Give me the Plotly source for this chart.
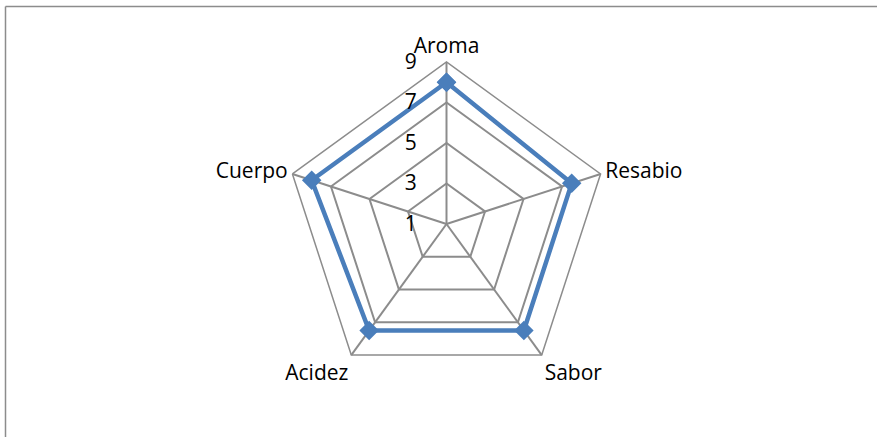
import plotly.graph_objects as go

categories = ["Aroma", "Resabio", "Sabor", "Acidez", "Cuerpo"]
values = [8.0, 7.5, 7.5, 7.5, 8.0]
radial_ticks = [1, 3, 5, 7, 9]

W, H = 877, 437
cx, cy, R = 446.5, 224, 162

fig = go.Figure()
fig.add_trace(go.Scatterpolar(
    r=values + values[:1],
    theta=categories + categories[:1],
    mode="lines+markers",
    line=dict(color="#4A7EBB", width=4.5),
    marker=dict(symbol="diamond", size=15, color="#4A7EBB"),
    showlegend=False,
    hoverinfo="skip",
))

FONT = "Open Sans, Noto Sans, sans-serif"
fig.update_layout(
    width=W, height=H,
    margin=dict(l=0, r=0, t=0, b=0),
    paper_bgcolor="white",
    font=dict(family=FONT, size=21, color="black"),
    polar=dict(
        domain=dict(x=[(cx - R) / W, (cx + R) / W],
                    y=[(H - cy - R) / H, (H - cy + R) / H]),
        bgcolor="white",
        gridshape="linear",
        angularaxis=dict(
            direction="clockwise", rotation=90,
            showline=True, linecolor="#8C8C8C", linewidth=1.5,
            gridcolor="#8C8C8C", gridwidth=1.5,
            ticks="", tickfont=dict(family=FONT, size=21, color="black"),
        ),
        radialaxis=dict(
            range=[1, 9], tickvals=radial_ticks, ticktext=[str(t) for t in radial_ticks],
            angle=90, tickangle=90, side="counterclockwise",
            showline=False, gridcolor="#8C8C8C", gridwidth=1.5,
            ticks="outside", ticklen=22, tickcolor="rgba(0,0,0,0)",
            tickfont=dict(family=FONT, size=21, color="black"),
        ),
    ),
    shapes=[
        dict(type="line", xref="paper", yref="paper", x0=5.5 / W, x1=1.0,
             y0=1 - 6.5 / H, y1=1 - 6.5 / H, line=dict(color="#8C8C8C", width=1.5)),
        dict(type="line", xref="paper", yref="paper", x0=5.5 / W, x1=5.5 / W,
             y0=0, y1=1 - 6.5 / H, line=dict(color="#8C8C8C", width=1.5)),
    ],
)

fig.write_html("out.html",
               config={"displayModeBar": False},
               post_script="document.body.style.margin='0';document.body.style.overflow='hidden';")
